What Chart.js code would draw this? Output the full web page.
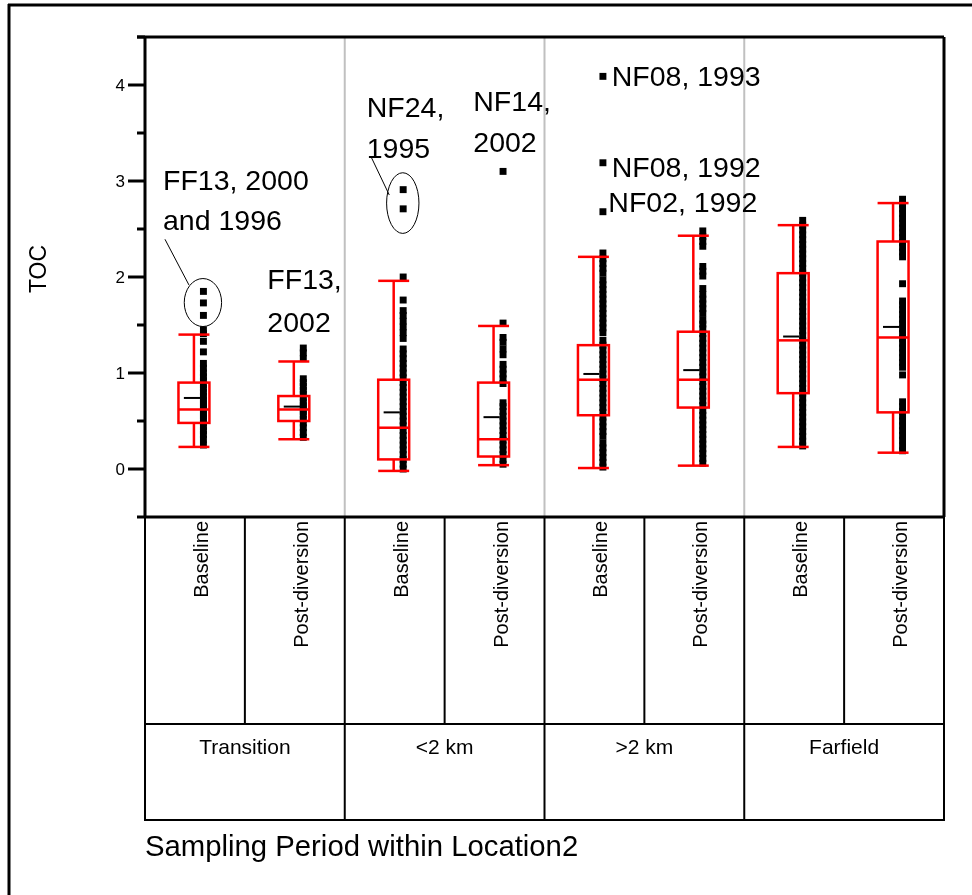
<!DOCTYPE html>
<html>
<head>
<meta charset="utf-8">
<script src="https://cdn.jsdelivr.net/npm/chart.js@4.4.1/dist/chart.umd.min.js"></script>
<style>
  body { margin: 0; background: #fff; }
  #wrap { width: 972px; height: 895px; }
</style>
</head>
<body>
<div id="wrap"><canvas id="tocChart" width="972" height="895"></canvas></div>
<script>
var locations = ['Transition', '<2 km', '>2 km', 'Farfield'];
var periods = ['Baseline', 'Post-diversion'];
var yTicks = [0, 1, 2, 3, 4];

// box summaries, one entry per period within location
var whiskerLow  = [0.23, 0.31, -0.02, 0.04, 0.01, 0.035, 0.23, 0.17];
var quart1      = [0.48, 0.50, 0.10, 0.13, 0.56, 0.64, 0.79, 0.59];
var medians     = [0.62, 0.62, 0.43, 0.31, 0.93, 0.93, 1.34, 1.37];
var quart3      = [0.90, 0.76, 0.93, 0.90, 1.29, 1.43, 2.04, 2.37];
var whiskerHigh = [1.40, 1.12, 1.96, 1.49, 2.21, 2.43, 2.54, 2.77];
var means       = [0.74, 0.65, 0.59, 0.54, 0.99, 1.03, 1.38, 1.48];

// station values
var tocTransBase = [0.25, 0.31, 0.36, 0.40, 0.44, 0.48, 0.52, 0.55, 0.58, 0.62, 0.65, 0.69, 0.72,
  0.76, 0.80, 0.84, 0.88, 0.92, 0.96, 1.00, 1.05, 1.10, 1.22, 1.33, 1.41, 1.45, 1.60, 1.73, 1.85];
var tocTransPost = [0.33, 0.38, 0.43, 0.48, 0.52, 0.56, 0.60, 0.63, 0.66, 0.70, 0.74, 0.78, 0.82,
  0.86, 0.90, 0.94, 1.15, 1.21, 1.26];
var tocNearBase = [0.00, 0.05, 0.10, 0.15, 0.20, 0.25, 0.30, 0.35, 0.40, 0.45, 0.50, 0.55, 0.60,
  0.65, 0.70, 0.75, 0.80, 0.85, 0.90, 0.95, 1.00, 1.05, 1.10, 1.15, 1.20, 1.25, 1.36, 1.42, 1.48,
  1.54, 1.60, 1.65, 1.76, 2.00, 2.71, 2.91];
var tocNearPost = [0.05, 0.10, 0.15, 0.20, 0.25, 0.30, 0.35, 0.40, 0.45, 0.50, 0.55, 0.60, 0.65,
  0.69, 0.89, 0.94, 0.99, 1.04, 1.09, 1.19, 1.25, 1.32, 1.37, 1.52, 3.10];
var tocMidBase = [0.02, 0.07, 0.12, 0.17, 0.22, 0.27, 0.34, 0.39, 0.44, 0.49, 0.54, 0.59, 0.64,
  0.69, 0.74, 0.79, 0.84, 0.89, 0.94, 0.99, 1.04, 1.09, 1.14, 1.19, 1.24, 1.29, 1.34, 1.42, 1.47,
  1.52, 1.57, 1.62, 1.67, 1.72, 1.77, 1.82, 1.87, 1.92, 1.97, 2.04, 2.09, 2.14, 2.19, 2.25,
  2.68, 3.19, 4.09];
var tocMidPost = [0.06, 0.11, 0.16, 0.21, 0.26, 0.31, 0.36, 0.41, 0.46, 0.51, 0.56, 0.61, 0.66,
  0.71, 0.76, 0.81, 0.86, 0.91, 0.96, 1.01, 1.06, 1.11, 1.16, 1.21, 1.26, 1.31, 1.36, 1.41, 1.46,
  1.51, 1.55, 1.62, 1.67, 1.72, 1.77, 1.82, 1.88, 2.01, 2.06, 2.11, 2.32, 2.37, 2.42, 2.48];
var tocFarBase = [0.24, 0.29, 0.34, 0.39, 0.44, 0.49, 0.54, 0.59, 0.64, 0.69, 0.74, 0.79, 0.84,
  0.89, 0.94, 0.99, 1.04, 1.09, 1.14, 1.19, 1.24, 1.29, 1.34, 1.39, 1.44, 1.49, 1.54, 1.59, 1.64,
  1.69, 1.74, 1.79, 1.84, 1.89, 1.94, 1.99, 2.04, 2.09, 2.14, 2.19, 2.24, 2.29, 2.34, 2.39, 2.44,
  2.49, 2.54, 2.59];
var tocFarPost = [0.19, 0.24, 0.30, 0.35, 0.40, 0.45, 0.50, 0.55, 0.60, 0.65, 0.70, 0.98, 1.06,
  1.11, 1.16, 1.21, 1.26, 1.31, 1.36, 1.41, 1.46, 1.51, 1.56, 1.61, 1.66, 1.71, 1.75, 1.93, 2.21,
  2.26, 2.31, 2.36, 2.41, 2.46, 2.51, 2.56, 2.61, 2.66, 2.71, 2.76, 2.81];

var groups = [tocTransBase, tocTransPost, tocNearBase, tocNearPost,
              tocMidBase, tocMidPost, tocFarBase, tocFarPost];

var FONT = '"Liberation Sans", Arial, Helvetica, sans-serif';
var RED = '#ff0000';

// every value goes in a column just right of its box centre
var points = [];
groups.forEach(function (vals, i) {
  vals.forEach(function (v) { points.push({ x: i + 0.585, y: v }); });
});

// labelled stations: text lines, anchor in axis units
var notes = [
  { lines: ['FF13, 2000', 'and 1996'], x: 0.18, y: [2.906, 2.49] },
  { lines: ['FF13,', '2002'], x: 1.225, y: [1.875, 1.43] },
  { lines: ['NF24,', '1995'], x: 2.22, y: [3.67, 3.236] },
  { lines: ['NF14,', '2002'], x: 3.287, y: [3.732, 3.30] },
  { lines: ['NF08, 1993'], x: 4.673, y: [3.993] },
  { lines: ['NF08, 1992'], x: 4.673, y: [3.045] },
  { lines: ['NF02, 1992'], x: 4.639, y: [2.68] }
];
var rings = [
  { cx: 0.58, cy: 1.734, rx: 0.187, ry: 0.25, from: [0.20, 2.393], to: [0.44, 1.917] },
  { cx: 2.581, cy: 2.77, rx: 0.162, ry: 0.316, from: [2.26, 3.26], to: [2.446, 2.854] }
];

function seg(ctx, x1, y1, x2, y2) {
  ctx.beginPath();
  ctx.moveTo(x1, y1);
  ctx.lineTo(x2, y2);
  ctx.stroke();
}

var boxPlugin = {
  id: 'boxes',
  beforeDatasetsDraw: function (chart) {
    var ctx = chart.ctx, a = chart.chartArea, xs = chart.scales.x;
    ctx.save();
    ctx.strokeStyle = '#c0c0c0';
    ctx.lineWidth = 2;
    for (var g = 1; g < locations.length; g++) {
      var px = xs.getPixelForValue(g * periods.length);
      seg(ctx, px, a.top, px, a.bottom);
    }
    ctx.restore();
  },
  afterDatasetsDraw: function (chart) {
    var ctx = chart.ctx, xs = chart.scales.x, ys = chart.scales.y;
    var half = xs.getPixelForValue(0.155) - xs.getPixelForValue(0);
    ctx.save();
    for (var i = 0; i < groups.length; i++) {
      var cx = xs.getPixelForValue(i + 0.49);
      var yLo = ys.getPixelForValue(whiskerLow[i]);
      var yQ1 = ys.getPixelForValue(quart1[i]);
      var yMd = ys.getPixelForValue(medians[i]);
      var yQ3 = ys.getPixelForValue(quart3[i]);
      var yHi = ys.getPixelForValue(whiskerHigh[i]);
      ctx.strokeStyle = RED;
      ctx.lineWidth = 2.5;
      ctx.strokeRect(cx - half, yQ3, half * 2, yQ1 - yQ3);
      seg(ctx, cx - half, yMd, cx + half, yMd);
      seg(ctx, cx, yQ3, cx, yHi);
      seg(ctx, cx, yQ1, cx, yLo);
      seg(ctx, cx - half, yHi, cx + half, yHi);
      seg(ctx, cx - half, yLo, cx + half, yLo);
      // mean tick
      var yMn = ys.getPixelForValue(means[i]);
      ctx.strokeStyle = '#000';
      ctx.lineWidth = 2;
      seg(ctx, cx - half * 0.65, yMn, cx + half * 0.4, yMn);
    }

    // station labels
    ctx.fillStyle = '#000';
    ctx.font = '28.5px ' + FONT;
    ctx.textAlign = 'left';
    ctx.textBaseline = 'alphabetic';
    notes.forEach(function (n) {
      n.lines.forEach(function (t, k) {
        ctx.fillText(t, xs.getPixelForValue(n.x), ys.getPixelForValue(n.y[k]));
      });
    });
    ctx.strokeStyle = '#000';
    ctx.lineWidth = 1;
    rings.forEach(function (r) {
      var px = xs.getPixelForValue(r.cx), py = ys.getPixelForValue(r.cy);
      var rx = xs.getPixelForValue(r.cx + r.rx) - px;
      var ry = py - ys.getPixelForValue(r.cy + r.ry);
      ctx.beginPath();
      ctx.ellipse(px, py, rx, ry, 0, 0, Math.PI * 2);
      ctx.stroke();
      seg(ctx, xs.getPixelForValue(r.from[0]), ys.getPixelForValue(r.from[1]),
               xs.getPixelForValue(r.to[0]), ys.getPixelForValue(r.to[1]));
    });
    ctx.restore();
  },
  afterDraw: function (chart) {
    var ctx = chart.ctx, a = chart.chartArea, xs = chart.scales.x, ys = chart.scales.y;
    ctx.save();
    ctx.strokeStyle = '#000';
    ctx.fillStyle = '#000';

    // outer frame (left and top edges)
    ctx.lineWidth = 3;
    seg(ctx, 9, 4, 9, chart.height);
    seg(ctx, 8, 5, chart.width, 5);

    // plot frame
    seg(ctx, a.left - 8, a.top, a.right, a.top);
    seg(ctx, a.left - 8, a.bottom, a.right, a.bottom);
    seg(ctx, a.left, a.top, a.left, a.bottom);
    seg(ctx, a.right, a.top, a.right, a.bottom);

    // y ticks: long at labelled values, short halfway between
    ctx.font = '17px ' + FONT;
    ctx.textAlign = 'right';
    ctx.textBaseline = 'middle';
    yTicks.forEach(function (t) {
      var py = ys.getPixelForValue(t);
      seg(ctx, a.left - 17, py, a.left, py);
      ctx.fillText(String(t), a.left - 20, py + 1);
      var ph = ys.getPixelForValue(t + 0.5);
      seg(ctx, a.left - 8, ph, a.left, ph);
    });

    // y title
    ctx.save();
    ctx.translate(46, (a.top + a.bottom) / 2 - 8);
    ctx.rotate(-Math.PI / 2);
    ctx.textAlign = 'center';
    ctx.textBaseline = 'alphabetic';
    ctx.font = '23px ' + FONT;
    ctx.fillText('TOC', 0, 0);
    ctx.restore();

    // category table under the plot
    var row1 = a.bottom + 207, row2 = a.bottom + 303;
    ctx.lineWidth = 2;
    seg(ctx, a.left - 1, row1, a.right + 1, row1);
    seg(ctx, a.left - 1, row2, a.right + 1, row2);
    var n = locations.length * periods.length;
    for (var k = 0; k <= n; k++) {
      var px = xs.getPixelForValue(k);
      seg(ctx, px, a.bottom, px, k % periods.length === 0 ? row2 : row1);
    }

    ctx.font = '20px ' + FONT;
    for (var i = 0; i < n; i++) {
      ctx.save();
      ctx.translate(xs.getPixelForValue(i + 0.5) + 13, a.bottom + 4);
      ctx.rotate(-Math.PI / 2);
      ctx.textAlign = 'right';
      ctx.textBaseline = 'alphabetic';
      ctx.fillText(periods[i % periods.length], 0, 0);
      ctx.restore();
    }
    ctx.font = '21px ' + FONT;
    ctx.textAlign = 'center';
    ctx.textBaseline = 'alphabetic';
    locations.forEach(function (loc, g) {
      ctx.fillText(loc, xs.getPixelForValue(g * 2 + 1), row1 + 30);
    });

    // x title
    ctx.textAlign = 'left';
    ctx.font = '29.3px ' + FONT;
    ctx.fillText('Sampling Period within Location2', a.left, row2 + 36);
    ctx.restore();
  }
};

new Chart(document.getElementById('tocChart'), {
  type: 'scatter',
  data: {
    datasets: [{
      data: points,
      pointStyle: 'rect',
      pointRadius: 4.9,
      pointHoverRadius: 4.9,
      backgroundColor: '#000',
      borderWidth: 0
    }]
  },
  options: {
    responsive: false,
    animation: false,
    events: [],
    layout: { padding: { left: 145, top: 37, right: 28, bottom: 378 } },
    plugins: { legend: { display: false }, tooltip: { enabled: false } },
    scales: {
      x: { type: 'linear', min: 0, max: 8, display: false },
      y: { type: 'linear', min: -0.5, max: 4.5, display: false }
    }
  },
  plugins: [boxPlugin]
});
</script>
</body>
</html>
